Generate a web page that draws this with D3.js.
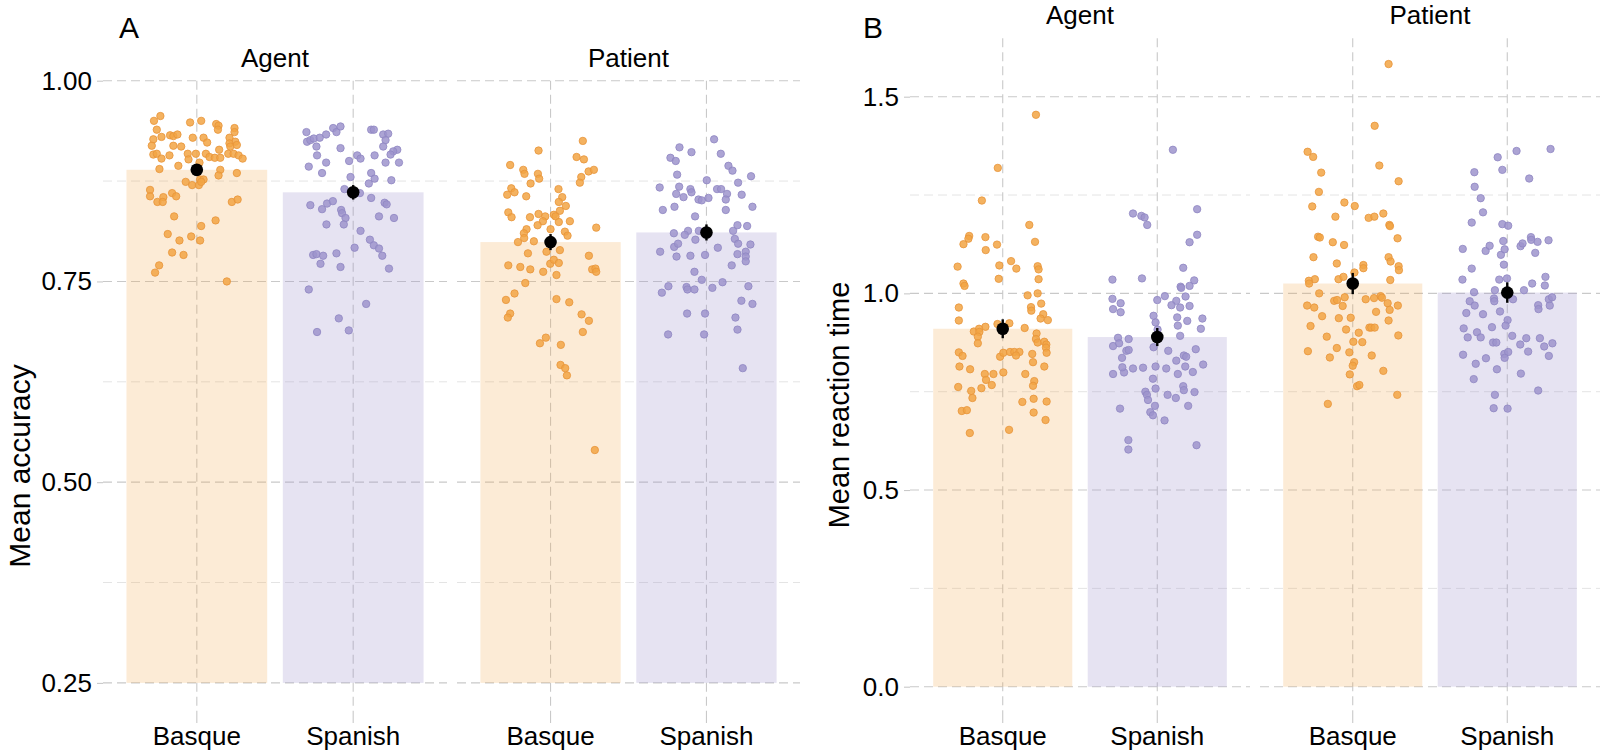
<!DOCTYPE html>
<html><head><meta charset="utf-8">
<script src="https://cdn.jsdelivr.net/npm/d3@7"></script>
<style>
body{margin:0;background:#fff;}
svg{display:block;}
text{font-family:"Liberation Sans",Arial,Helvetica,sans-serif;fill:#000;}
</style>
</head><body>
<svg id="chart" width="1600" height="755"></svg>
<script>
// ---------- categories ----------
const languages = ["Basque", "Spanish"];
const roles = ["Agent", "Patient"];

// ---------- Panel A: mean accuracy ----------
const accTicks = [0.25, 0.50, 0.75, 1.00];
const accTickLabels = ["0.25", "0.50", "0.75", "1.00"];
const accMinorTicks = [0.375, 0.625, 0.875];
const accMeanAgent = [0.889, 0.861];
const accMeanPatient = [0.799, 0.811];
const accSEAgent = [0.007, 0.009];
const accSEPatient = [0.010, 0.010];

const accAgentBasque = [.950,.956,.939,.948,.950,.946,.944,.939,.941,.936,.927,.930,.932,.931,.933,.929,.929,.923,.929,.924,.919,.919,.918,.922,.918,.920,.908,.909,.903,.907,.909,.909,.909,.905,.904,.914,.904,.909,.909,.907,.903,.890,.894,.902,.898,.889,.882,.885,.874,.870,.877,.877,.870,.874,.864,.856,.849,.855,.849,.860,.856,.849,.852,.831,.819,.826,.809,.801,.806,.801,.786,.783,.770,.761,.750];
const accAgentBasqueJitter = [-.274,-.233,-.256,-.043,.028,.124,.139,.135,.241,.241,-.278,-.226,-.171,-.150,-.124,-.026,.043,.066,.209,.246,-.288,-.150,-.100,.209,.214,.256,-.278,-.256,-.226,-.175,-.058,-.006,.058,.081,.115,.143,.150,.201,.235,.267,.293,-.239,-.118,-.053,.017,.150,.139,.256,-.071,-.030,.021,.043,.013,.028,-.299,-.299,-.252,-.214,-.218,-.158,-.132,.224,.261,-.145,.028,.120,-.186,-.111,-.036,.021,-.158,-.085,-.241,-.267,.192];

const accAgentSpanish = [.936,.924,.926,.928,.918,.929,.933,.941,.936,.943,.916,.939,.939,.933,.934,.926,.918,.914,.912,.908,.907,.893,.885,.898,.900,.907,.903,.907,.898,.898,.880,.885,.878,.872,.876,.865,.860,.854,.845,.840,.847,.850,.839,.835,.829,.821,.821,.848,.846,.831,.829,.813,.792,.802,.795,.791,.782,.766,.783,.784,.782,.772,.785,.768,.740,.722,.704,.689,.687];
const accAgentSpanishJitter = [-.299,-.295,-.274,-.252,-.235,-.214,-.173,-.128,-.107,-.081,-.081,.115,.132,.192,.224,.207,.192,.282,.256,.239,-.231,-.284,-.199,-.173,-.026,.026,.047,.137,.207,.293,-.017,.115,.137,.100,.244,-.056,.043,.115,-.274,-.199,-.167,-.130,-.077,-.071,-.049,-.060,-.171,.201,.214,.165,.261,.047,.009,.107,.132,.165,.186,.229,-.256,-.235,-.192,-.209,-.107,-.081,-.284,.083,-.092,-.028,-.231];

const accPatientBasque = [.925,.913,.905,.902,.895,.889,.884,.884,.878,.887,.889,.880,.873,.872,.866,.861,.858,.856,.865,.855,.849,.844,.836,.830,.830,.834,.831,.833,.838,.831,.825,.820,.825,.824,.817,.815,.815,.810,.799,.804,.800,.812,.807,.785,.787,.789,.782,.770,.768,.765,.762,.772,.777,.773,.758,.765,.766,.762,.748,.735,.727,.728,.724,.710,.705,.709,.701,.687,.680,.673,.671,.646,.642,.633,.540];
const accPatientBasqueJitter = [.207,-.077,.167,.214,-.259,-.175,-.167,-.081,-.073,.244,.278,.197,.188,-.128,-.252,-.231,-.278,-.156,.051,.075,.053,.098,-.271,-.250,-.132,-.077,-.034,.021,.060,.032,-.049,-.083,.124,.053,.293,0,-.154,-.171,-.209,-.169,-.107,.092,.109,-.145,-.026,.060,.246,-.271,-.194,-.130,-.047,-.002,.021,.053,.038,.267,.288,.293,-.162,-.231,-.286,.038,.120,-.259,-.274,.199,.246,.207,-.030,-.068,.066,.064,.094,.105,.284];

const accPatientSpanish = [.927,.917,.911,.909,.904,.900,.894,.888,.883,.881,.876,.867,.868,.865,.861,.859,.855,.852,.851,.854,.865,.865,.859,.852,.873,.858,.839,.843,.839,.843,.831,.810,.813,.808,.813,.813,.820,.819,.803,.797,.796,.802,.787,.793,.797,.781,.782,.783,.792,.784,.787,.781,.775,.770,.762,.752,.749,.744,.736,.743,.740,.740,.742,.744,.726,.722,.710,.710,.705,.690,.684,.684,.642];
const accPatientSpanishJitter = [.049,-.173,-.096,.092,-.231,-.197,.141,.167,-.188,.286,.002,-.300,-.175,-.103,-.096,-.194,-.147,-.051,-.030,.013,.068,.094,.132,.124,.203,.226,-.280,-.205,.124,.295,-.073,-.209,-.118,-.139,-.049,.171,.199,.261,.182,.203,.282,-.071,-.297,-.207,-.182,-.192,-.103,-.009,.073,.199,.252,.252,.252,.162,-.077,-.030,.103,-.244,-.286,-.128,-.122,-.077,.038,.269,.224,.295,-.124,-.009,.186,.199,-.246,-.015,.233];

// ---------- Panel B: mean reaction time ----------
const rtTicks = [0.0, 0.5, 1.0, 1.5];
const rtTickLabels = ["0.0", "0.5", "1.0", "1.5"];
const rtMinorTicks = [0.25, 0.75, 1.25];
const rtMeanAgent = [0.910, 0.889];
const rtMeanPatient = [1.025, 1.002];
const rtSEAgent = [0.024, 0.023];
const rtSEPatient = [0.027, 0.026];

const rtAgentBasque = [1.454,1.319,1.236,1.174,1.146,1.139,1.125,1.143,1.110,1.124,1.131,1.068,1.025,1.019,1.071,1.082,1.063,1.069,1.061,1.037,1.036,.964,.931,.995,1.000,.965,.956,.974,.947,.936,.932,.915,.922,.924,.912,.903,.910,.902,.890,.873,.898,.884,.875,.877,.870,.862,.849,.850,.841,.839,.849,.851,.851,.851,.842,.846,.825,.814,.807,.795,.795,.780,.767,.759,.799,.795,.814,.777,.765,.762,.752,.734,.701,.703,.724,.732,.725,.697,.678,.645,.653];
const rtAgentBasqueJitter = [.215,-.032,-.135,.172,-.217,-.222,-.254,-.112,-.110,-.037,.209,-.292,-.254,-.247,-.022,.054,.088,.226,.232,-.026,.232,-.284,-.284,.161,.226,.183,.185,.249,.262,.245,.292,-.112,-.034,.043,.142,-.187,-.153,-.151,-.161,-.161,.219,.215,.226,.269,.282,.280,.284,-.284,-.260,-.017,.004,.047,.075,.108,.086,.191,.196,-.280,-.211,-.116,-.060,-.108,-.071,-.138,.004,.146,.269,.204,.196,-.288,-.204,-.196,-.265,-.232,.127,.200,.284,.200,.277,-.213,.041];

const rtAgentSpanish = [1.365,1.203,1.197,1.193,1.174,1.214,1.149,1.130,1.065,1.033,1.017,1.014,1.019,1.035,1.038,.986,.975,.960,.952,.983,.993,.981,.970,.964,.992,.968,.939,.930,.936,.918,.910,.943,.926,.908,.892,.887,.884,.866,.873,.854,.856,.836,.863,.854,.858,.829,.842,.839,.819,.795,.799,.812,.809,.811,.814,.809,.795,.814,.800,.783,.758,.750,.742,.729,.714,.698,.690,.742,.734,.764,.754,.749,.714,.707,.677,.627,.603,.614];
const rtAgentSpanishJitter = [.101,-.157,-.103,-.082,-.065,.258,.258,.209,.168,.239,.151,.155,.209,-.290,-.099,-.290,-.237,-.286,-.237,0,.049,.123,.092,.148,.183,.209,.129,.194,.292,.133,.282,-.024,-.011,.002,.148,-.254,-.185,-.286,-.247,-.200,-.185,-.228,-.024,.071,.249,.123,.172,.187,.297,-.286,-.215,-.226,-.157,-.092,-.011,.058,.133,.181,.230,-.028,-.011,-.077,-.067,-.060,-.015,-.045,-.028,.067,.120,.168,.172,.241,.200,-.241,.047,-.187,-.187,.254];

const rtPatientBasque = [1.583,1.426,1.360,1.347,1.325,1.307,1.285,1.258,1.221,1.231,1.222,1.195,1.192,1.195,1.203,1.174,1.171,1.144,1.142,1.130,1.123,1.140,1.092,1.076,1.072,1.064,1.092,1.081,1.069,1.059,1.053,1.036,1.042,1.036,1.032,1.025,1.034,1.000,.981,.983,.990,.969,.964,.968,.985,.988,.993,.989,.975,.958,.969,.942,.937,.938,.953,.931,.917,.908,.900,.913,.913,.913,.893,.890,.877,.876,.861,.853,.837,.850,.842,.825,.816,.794,.803,.764,.767,.742,.719];
const rtPatientBasqueJitter = [.232,.142,-.292,-.256,.172,-.204,.297,-.219,-.262,-.054,.013,-.112,.103,.140,.198,.237,.241,-.224,-.213,-.129,-.056,.290,-.254,-.103,.069,.069,.232,.245,.297,.299,.011,-.092,-.060,-.245,-.284,-.282,.243,-.217,-.120,-.101,-.052,-.295,-.249,-.065,.084,.138,.181,.189,.226,.239,.292,-.198,-.090,-.013,.151,.232,-.273,-.043,.039,.108,.120,.142,.295,-.168,.004,.062,-.103,-.290,-.148,-.022,.123,.009,0,-.019,.198,.028,.043,.288,-.161];

const rtPatientSpanish = [1.367,1.362,1.346,1.314,1.292,1.308,1.271,1.242,1.206,1.180,1.176,1.172,1.113,1.108,1.121,1.098,1.112,1.133,1.120,1.127,1.143,1.136,1.131,1.135,1.103,1.063,1.073,1.035,1.035,1.038,1.042,1.020,1.025,1.008,1.003,1.008,.987,.980,.985,.980,.969,.985,.990,.969,.970,.960,.950,.947,.954,.932,.918,.911,.914,.901,.888,.888,.892,.886,.886,.875,.875,.870,.865,.873,.852,.841,.844,.846,.851,.836,.835,.821,.807,.796,.782,.753,.742,.708,.707];
const rtPatientSpanishJitter = [.280,.060,-.062,-.032,.142,-.213,-.211,-.172,-.157,-.230,-.032,.006,-.288,-.140,-.114,-.041,-.017,-.026,.086,.099,.153,.155,.196,.267,.181,-.230,-.022,-.290,-.052,-.002,.247,.243,.161,.108,-.215,-.080,-.086,-.084,.037,-.243,-.211,.269,.290,.275,.200,.202,-.265,-.157,-.047,.002,-.011,-.282,-.099,-.196,-.172,-.256,.032,.123,.211,-.092,-.071,.084,.239,.292,.135,.269,-.286,-.019,.006,-.017,-.138,-.204,-.067,.088,-.217,.200,-.080,-.088,.002];

// ---------- styling ----------
const colors = {Basque: "#F2A444", Spanish: "#9E94CC"};
const rimColors = {Basque: "#E8953A", Spanish: "#9087C2"};
const barOpacity = {Basque: 0.22, Spanish: 0.26};

const svg = d3.select("#chart");

function drawPanel(p) {
  const g = svg.append("g");
  const y = d3.scaleLinear().domain(p.yDomain).range(p.yRange);

  p.facets.forEach((role, fi) => {
    const [x0, x1] = p.facetRanges[fi];
    const x = d3.scaleBand().domain(languages).range([x0, x1])
      .paddingInner(0.1).paddingOuter(0.15);
    const fg = g.append("g");

    // minor horizontal grid
    fg.selectAll(".minor").data(p.minorTicks).join("line")
      .attr("x1", x0).attr("x2", x1)
      .attr("y1", d => y(d)).attr("y2", d => y(d))
      .attr("stroke", "#e4e4e4").attr("stroke-width", 1)
      .attr("stroke-dasharray", "9,5");
    // major horizontal grid
    fg.selectAll(".major").data(p.majorTicks).join("line")
      .attr("x1", x0).attr("x2", x1)
      .attr("y1", d => y(d)).attr("y2", d => y(d))
      .attr("stroke", "#c9c9c9").attr("stroke-width", 1.1)
      .attr("stroke-dasharray", "9,5");

    // x axis (ticks extend the vertical gridlines)
    const xAxis = d3.axisBottom(x).tickSizeInner(6).tickSizeOuter(0).tickPadding(4);
    const xa = fg.append("g").attr("transform", `translate(0,${p.panelBottom})`).call(xAxis);
    xa.select(".domain").remove();
    xa.selectAll(".tick line").attr("stroke", "#c9c9c9").attr("stroke-width", 1.1);
    xa.selectAll(".tick text").style("font-size", "26px")
      .style("font-family", '"Liberation Sans",Arial,sans-serif').attr("fill", "#000");

    // vertical grid
    fg.selectAll(".vgrid").data(languages).join("line")
      .attr("x1", d => x(d) + x.bandwidth() / 2).attr("x2", d => x(d) + x.bandwidth() / 2)
      .attr("y1", p.panelTop).attr("y2", p.panelBottom)
      .attr("stroke", "#c9c9c9").attr("stroke-width", 1.1)
      .attr("stroke-dasharray", "9,5");

    // bars
    fg.selectAll(".bar").data(languages).join("rect")
      .attr("x", d => x(d)).attr("width", x.bandwidth())
      .attr("y", (d, i) => y(p.means[fi][i]))
      .attr("height", (d, i) => y(p.barBase) - y(p.means[fi][i]))
      .attr("fill", d => colors[d]).attr("fill-opacity", d => barOpacity[d]);

    // jittered points
    languages.forEach((lang, li) => {
      const vals = p.points[fi][li];
      const jit = p.jitters[fi][li];
      const cx = x(lang) + x.bandwidth() / 2;
      const step = x.step();
      fg.append("g").selectAll("circle").data(vals).join("circle")
        .attr("cx", (d, k) => cx + jit[k] * step)
        .attr("cy", d => y(d))
        .attr("r", 3.7)
        .attr("fill", colors[lang]).attr("fill-opacity", 0.85)
        .attr("stroke", rimColors[lang]).attr("stroke-width", 0.9).attr("stroke-opacity", 0.9);
    });

    // error bars and means
    languages.forEach((lang, li) => {
      const cx = x(lang) + x.bandwidth() / 2;
      const m = p.means[fi][li], se = p.ses[fi][li];
      fg.append("line").attr("x1", cx).attr("x2", cx)
        .attr("y1", y(m - se)).attr("y2", y(m + se))
        .attr("stroke", "#000").attr("stroke-width", 2.4);
      fg.append("circle").attr("cx", cx).attr("cy", y(m)).attr("r", 6.3).attr("fill", "#000");
    });

    // strip label
    fg.append("text").attr("x", (x0 + x1) / 2).attr("y", p.panelTop - 14)
      .attr("text-anchor", "middle").style("font-size", "26px").text(role);

    // y axis on first facet
    if (fi === 0) {
      const yAxis = d3.axisLeft(y).tickValues(p.majorTicks)
        .tickFormat((d, i) => p.tickLabels[i]).tickSizeInner(6).tickSizeOuter(0).tickPadding(5);
      const ya = fg.append("g").attr("transform", `translate(${x0},0)`).call(yAxis);
      ya.select(".domain").remove();
      ya.selectAll(".tick line").attr("stroke", "#c9c9c9").attr("stroke-width", 1.1);
      ya.selectAll(".tick text").style("font-size", "26px")
        .style("font-family", '"Liberation Sans",Arial,sans-serif').attr("fill", "#000");
    }
  });

  // panel letter
  g.append("text").attr("x", p.letterX).attr("y", 38).style("font-size", "30px").text(p.letter);
  // y title
  g.append("text").attr("transform", `translate(${p.titleX},${p.titleY}) rotate(-90)`)
    .attr("text-anchor", "middle").style("font-size", p.titleSize).text(p.yTitle);
}

drawPanel({
  letter: "A", letterX: 119,
  yTitle: "Mean accuracy", titleX: 30, titleY: 466, titleSize: "30px",
  facets: roles,
  facetRanges: [[103, 447], [457, 800]],
  yDomain: [0.25, 1.0], yRange: [682.9, 80.7],
  panelTop: 80.7, panelBottom: 717,
  barBase: 0.25,
  majorTicks: accTicks, tickLabels: accTickLabels, minorTicks: accMinorTicks,
  means: [accMeanAgent, accMeanPatient],
  ses: [accSEAgent, accSEPatient],
  points: [[accAgentBasque, accAgentSpanish], [accPatientBasque, accPatientSpanish]],
  jitters: [[accAgentBasqueJitter, accAgentSpanishJitter], [accPatientBasqueJitter, accPatientSpanishJitter]]
});

drawPanel({
  letter: "B", letterX: 863,
  yTitle: "Mean reaction time", titleX: 849, titleY: 405, titleSize: "29px",
  facets: roles,
  facetRanges: [[910, 1250], [1260, 1600]],
  yDomain: [0, 1.5], yRange: [686.7, 96.7],
  panelTop: 38.3, panelBottom: 717,
  barBase: 0,
  majorTicks: rtTicks, tickLabels: rtTickLabels, minorTicks: rtMinorTicks,
  means: [rtMeanAgent, rtMeanPatient],
  ses: [rtSEAgent, rtSEPatient],
  points: [[rtAgentBasque, rtAgentSpanish], [rtPatientBasque, rtPatientSpanish]],
  jitters: [[rtAgentBasqueJitter, rtAgentSpanishJitter], [rtPatientBasqueJitter, rtPatientSpanishJitter]]
});
</script>
</body></html>
